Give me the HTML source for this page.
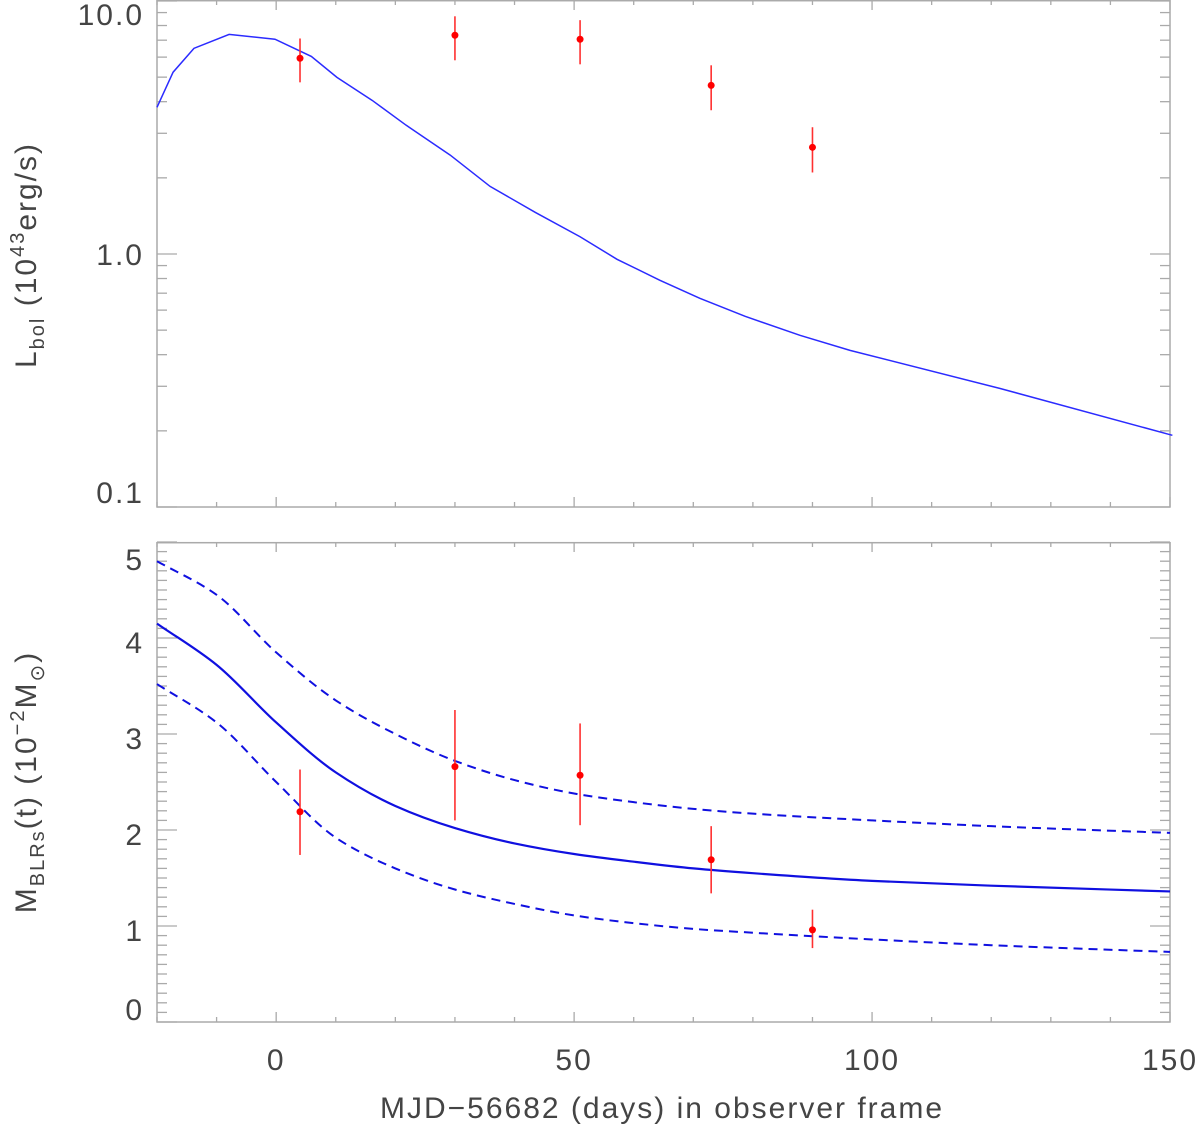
<!DOCTYPE html>
<html><head><meta charset="utf-8"><style>
html,body{margin:0;padding:0;background:#fff;}
svg text{font-family:"Liberation Sans",sans-serif;fill:#444;}
</style></head><body>
<svg id="chart" width="1200" height="1129" xmlns="http://www.w3.org/2000/svg">
<g id="axes"></g>
<g id="marks"></g>
<text transform="translate(36,255) rotate(-90)" text-anchor="middle" font-size="30" letter-spacing="2">L<tspan font-size="20" dy="8">bol</tspan><tspan dy="-8"> (10</tspan><tspan font-size="20" dy="-12">43</tspan><tspan dy="12">erg/s)</tspan></text>
<text transform="translate(36,782) rotate(-90)" text-anchor="middle" font-size="30" letter-spacing="2">M<tspan font-size="20" dy="8">BLRs</tspan><tspan dy="-8">(t)  (10</tspan><tspan font-size="20" dy="-12">−2</tspan><tspan dy="12">M</tspan><tspan font-size="20" dy="8">⊙</tspan><tspan dy="-8">)</tspan></text>
<text x="662" y="1118" text-anchor="middle" font-size="30" letter-spacing="2">MJD−56682 (days) in observer frame</text>
</svg>
<script>
// data
const lbolDays=[-20,-17.3,-13.8,-7.9,-0.2,5.9,10.2,16.1,21.8,29.2,35.9,43.5,51.0,57.2,64.4,71.1,78.7,87.9,96.3,121.5,150.4];
const lbolVals=[3.80,5.23,6.50,7.38,7.06,6.04,4.99,4.05,3.23,2.46,1.85,1.46,1.17,0.953,0.787,0.668,0.567,0.477,0.416,0.294,0.192];
const obsDays=[4,30,51,73,90];
const lbolObs=[5.94,7.32,7.06,4.64,2.64];
const lbolObsHi=[7.11,8.7,8.4,5.57,3.17];
const lbolObsLo=[4.77,5.83,5.62,3.70,2.10];
const massObs=[2.19,2.66,2.57,1.69,0.96];
const massObsHi=[2.63,3.25,3.11,2.04,1.17];
const massObsLo=[1.74,2.10,2.05,1.34,0.77];
const modelDays=[-20,-10,0,10,20,30,40,50,60,70,80,100,120,150];
const massMid=[4.15,3.72,3.12,2.60,2.25,2.02,1.86,1.75,1.67,1.60,1.55,1.47,1.42,1.36];
const massUp=[4.80,4.45,3.85,3.35,3.00,2.72,2.52,2.38,2.29,2.22,2.17,2.10,2.04,1.97];
const massLo=[3.52,3.12,2.50,1.92,1.60,1.38,1.23,1.11,1.03,0.97,0.93,0.86,0.80,0.73];
const xTicks=[0,50,100,150];
const topTicks=[0.1,1.0,10.0];
const topTickLabels=["0.1","1.0","10.0"];
const botTicks=[0,1,2,3,4,5];

const NS="http://www.w3.org/2000/svg";
const L=157,R=1170,T1=0,B1=507,T2=542,B2=1022;
const X=d=>L+(d+20)*(R-L)/170;
const Y1=v=>B1-(Math.log10(v)+1)*253;
const Y2=v=>B2-v*96;
const axes=document.getElementById('axes'),marks=document.getElementById('marks');
function el(tag,attrs,parent){const e=document.createElementNS(NS,tag);for(const k in attrs)e.setAttribute(k,attrs[k]);parent.appendChild(e);return e;}
function tick(x1,y1,x2,y2){const e=el('line',{x1,y1,x2,y2,stroke:'#aaa','stroke-width':1.3},axes);

}
function frame(t,b,name){const e=el('rect',{x:L,y:t+0.7,width:R-L,height:b-t-0.7,fill:'none',stroke:'#aaa','stroke-width':1.5},axes);

}
frame(T1,B1,'top-panel-frame');frame(T2,B2,'bottom-panel-frame');
for(let d=-20;d<=150;d+=10){const x=X(d),len=(d%50===0)?10:5;
tick(x,B1,x,B1-len);tick(x,T1,x,T1+len);tick(x,B2,x,B2-len);tick(x,T2,x,T2+len);}
for(const d of xTicks){const t=el('text',{x:X(d),y:1070,'text-anchor':'middle','font-size':30,'letter-spacing':2},axes);t.textContent=d;

}
for(let dec=-1;dec<=0;dec++)for(let m=1;m<=9;m++){const v=m*Math.pow(10,dec);const y=Y1(v);const len=m===1?20:10;
tick(L,y,L+len,y);tick(R,y,R-len,y);}
tick(L,Y1(10),L+20,Y1(10));tick(R,Y1(10),R-20,Y1(10));
topTicks.forEach((v,i)=>{let y=Y1(v)+11;if(i===0)y=B1-4;if(i===2)y=Y1(v)+24;
const t=el('text',{x:144,y,'text-anchor':'end','font-size':30,'letter-spacing':2},axes);t.textContent=topTickLabels[i];

});
for(let i=0;i<=50;i++){const v=i/10,y=Y2(v),len=(i%10===0)?20:10;tick(L,y,L+len,y);tick(R,y,R-len,y);}
botTicks.forEach(v=>{let y=Y2(v)+15;if(v===0)y=B2-2;if(v===5)y=T2+28;
const t=el('text',{x:142,y,'text-anchor':'end','font-size':30},axes);t.textContent=v;

});
let p=el('polyline',{points:lbolDays.map((d,i)=>X(d)+','+Y1(lbolVals[i])).join(' '),fill:'none',stroke:'#2b2bff','stroke-width':1.5},marks);


// monotone cubic (Fritsch-Carlson) path
function monoPath(xs,ys){const n=xs.length,dx=[],m=[],t=[];
 for(let i=0;i<n-1;i++){dx.push(xs[i+1]-xs[i]);m.push((ys[i+1]-ys[i])/dx[i]);}
 t[0]=m[0];t[n-1]=m[n-2];
 for(let i=1;i<n-1;i++){t[i]=(m[i-1]*m[i]<=0)?0:(dx[i-1]+dx[i])*3/((2*dx[i]+dx[i-1])/m[i-1]+(dx[i]+2*dx[i-1])/m[i]);}
 let d='M'+xs[0]+','+ys[0];
 for(let i=0;i<n-1;i++){const h=dx[i]/3;d+=` C${xs[i]+h},${ys[i]+t[i]*h} ${xs[i+1]-h},${ys[i+1]-t[i+1]*h} ${xs[i+1]},${ys[i+1]}`;}
 return d;}
const defs=[[massMid,'none','mass-model-line',2.2],[massUp,'9,6','mass-upper-bound',2],[massLo,'9,6','mass-lower-bound',2]];
for(const [arr,dash,name,w] of defs){
 const e=el('path',{d:monoPath(modelDays.map(X),arr.map(Y2)),fill:'none',stroke:'#1010e0','stroke-width':w,'stroke-dasharray':dash},marks);
 
 
}
obsDays.forEach((d,i)=>{const x=X(d);
 let e=el('line',{x1:x,x2:x,y1:Y1(lbolObsHi[i]),y2:Y1(lbolObsLo[i]),stroke:'#ff3030','stroke-width':1.6},marks);
 
 
 e=el('circle',{cx:x,cy:Y1(lbolObs[i]),r:3.5,fill:'#ff0000'},marks);
 
 
 e=el('line',{x1:x,x2:x,y1:Y2(massObsHi[i]),y2:Y2(massObsLo[i]),stroke:'#ff3030','stroke-width':1.6},marks);
 
 
 e=el('circle',{cx:x,cy:Y2(massObs[i]),r:3.5,fill:'#ff0000'},marks);
 
 
});
</script>
</body></html>
